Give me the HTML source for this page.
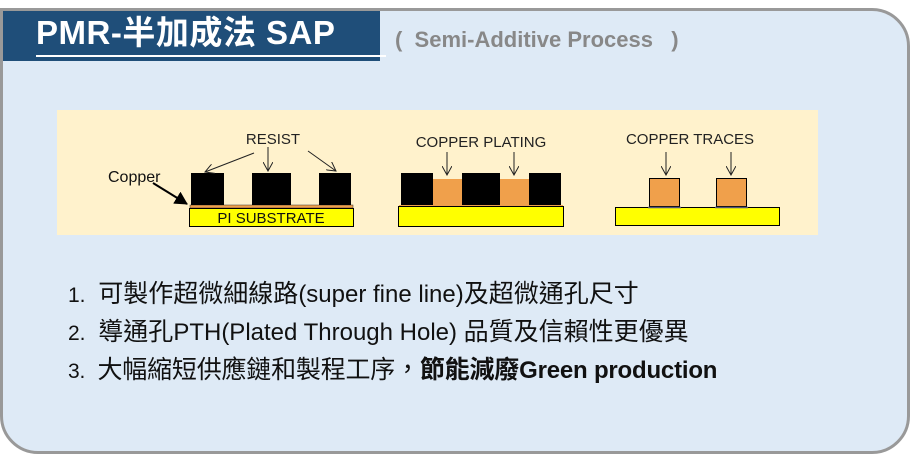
<!DOCTYPE html>
<html><head><meta charset="utf-8"><style>
body{margin:0;width:910px;height:453px;background:#fff;position:relative;overflow:hidden;font-family:"Liberation Sans","Noto Sans CJK TC",sans-serif}
.box{position:absolute;left:0;top:8px;width:904px;height:440px;background:#DEEAF6;border:3px solid #999;border-radius:0 38px 38px 38px}
.hdr{position:absolute;left:3px;top:11px;width:377px;height:50px;background:#1F4E79}
.ttl{position:absolute;left:36px;top:13px;color:#fff;font-weight:bold;font-size:33px;line-height:40px;white-space:nowrap;letter-spacing:0.5px}
.ul{position:absolute;left:36px;top:55px;width:350px;height:2px;background:#fff}
.sub{position:absolute;left:395px;top:27px;color:#888;font-weight:bold;font-size:22px;white-space:nowrap}
.li{position:absolute;left:68px;font-size:25px;line-height:30px;color:#111;white-space:nowrap}
.l{font-size:21px}
.m{font-size:24px}
</style></head><body>
<div class="box"></div>
<div class="hdr"></div>
<div class="ttl">PMR-半加成法 SAP</div>
<div class="ul"></div>
<div class="sub">(&nbsp;&nbsp;Semi-Additive Process&nbsp;&nbsp;&nbsp;)</div>
<svg style="position:absolute;left:0;top:0" width="910" height="453" font-family="Liberation Sans, sans-serif">
<defs><marker id="a" markerWidth="10" markerHeight="10" refX="9" refY="5" orient="auto" markerUnits="userSpaceOnUse"><path d="M0,0 L9,5 L0,10" fill="none" stroke="#222" stroke-width="1"/></marker>
<marker id="b" markerWidth="14" markerHeight="14" refX="12" refY="7" orient="auto" markerUnits="userSpaceOnUse"><path d="M0,0 L13,7 L0,14z" fill="#000"/></marker></defs>
<rect x="57" y="110" width="761" height="125" fill="#FFF2CC"/>
<rect x="190" y="205" width="163" height="3" fill="#F0A04B" stroke="#333" stroke-width="0.5"/>
<rect x="189.5" y="208.5" width="164" height="18" fill="#FFFF00" stroke="#000"/>
<text x="271" y="223" font-size="15" text-anchor="middle" fill="#111">PI SUBSTRATE</text>
<rect x="191" y="173" width="33" height="32" fill="#000"/>
<rect x="252" y="173" width="39" height="32" fill="#000"/>
<rect x="319" y="173" width="32" height="32" fill="#000"/>
<text x="273" y="144" font-size="15" text-anchor="middle" fill="#222">RESIST</text>
<line x1="254" y1="153" x2="205" y2="172" stroke="#222" marker-end="url(#a)"/>
<line x1="268" y1="147" x2="268" y2="171" stroke="#222" marker-end="url(#a)"/>
<line x1="308" y1="151" x2="336" y2="171" stroke="#222" marker-end="url(#a)"/>
<text x="108" y="182" font-size="16" fill="#111">Copper</text>
<line x1="153" y1="183" x2="187" y2="204" stroke="#000" stroke-width="2" marker-end="url(#b)"/>
<rect x="399" y="205" width="164" height="3" fill="#F0A04B"/>
<rect x="398.5" y="206.5" width="165" height="20" fill="#FFFF00" stroke="#000"/>
<rect x="433" y="179" width="29" height="26" fill="#F0A04B"/>
<rect x="500" y="179" width="29" height="26" fill="#F0A04B"/>
<rect x="401" y="173" width="32" height="32" fill="#000"/>
<rect x="462" y="173" width="38" height="32" fill="#000"/>
<rect x="529" y="173" width="32" height="32" fill="#000"/>
<text x="481" y="147" font-size="15" text-anchor="middle" fill="#222">COPPER PLATING</text>
<line x1="447" y1="152" x2="447" y2="175" stroke="#222" marker-end="url(#a)"/>
<line x1="514" y1="152" x2="514" y2="175" stroke="#222" marker-end="url(#a)"/>
<rect x="615.5" y="207.5" width="164" height="18" fill="#FFFF00" stroke="#000"/>
<rect x="649.5" y="178.5" width="30" height="28" fill="#F0A04B" stroke="#000"/>
<rect x="716.5" y="178.5" width="30" height="28" fill="#F0A04B" stroke="#000"/>
<line x1="648" y1="207.5" x2="681" y2="207.5" stroke="#557" stroke-width="1.5"/>
<line x1="715" y1="207.5" x2="748" y2="207.5" stroke="#557" stroke-width="1.5"/>
<text x="690" y="144" font-size="15" text-anchor="middle" fill="#222">COPPER TRACES</text>
<line x1="666" y1="152" x2="666" y2="175" stroke="#222" marker-end="url(#a)"/>
<line x1="731" y1="152" x2="731" y2="175" stroke="#222" marker-end="url(#a)"/>
</svg>
<div class="li" style="top:279px"><span class="l">1.&nbsp;</span> 可製作超微細線路<span class="m">(super fine line)</span>及超微通孔尺寸</div>
<div class="li" style="top:317px"><span class="l">2.&nbsp;</span> 導通孔<span class="m">PTH(Plated Through Hole) </span>品質及信賴性更優異</div>
<div class="li" style="top:355px;letter-spacing:-0.2px"><span class="l">3.&nbsp;</span> 大幅縮短供應鏈和製程工序，<b>節能減廢<span class="m">Green production</span></b></div>
</body></html>
